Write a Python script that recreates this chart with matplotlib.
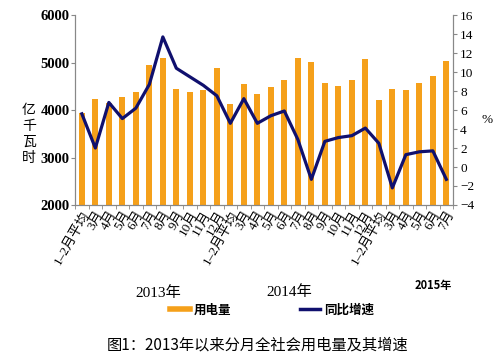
import matplotlib
matplotlib.use("Agg")
import matplotlib.pyplot as plt
import numpy as np
from matplotlib.lines import Line2D

SERIF = ['Liberation Serif', 'Noto Sans CJK SC']
CJK = ['Noto Sans CJK SC', 'DejaVu Sans']

BAR_COLOR = '#F5A01A'
LINE_COLOR = '#10106E'

# Month labels for 2013 / 2014 / 2015 (through July)
months = ['1–2月平均', '3月', '4月', '5月', '6月', '7月', '8月', '9月', '10月', '11月', '12月',
          '1–2月平均', '3月', '4月', '5月', '6月', '7月', '8月', '9月', '10月', '11月', '12月',
          '1–2月平均', '3月', '4月', '5月', '6月', '7月']

# Electricity consumption (100 million kWh)
usage = [3930, 4230, 4150, 4270, 4380, 4945, 5100, 4445, 4375, 4420, 4875,
         4120, 4545, 4340, 4480, 4630, 5090, 5020, 4565, 4500, 4635, 5080,
         4220, 4445, 4415, 4565, 4710, 5040]

# Year-on-year growth (%)
growth = [5.6, 2.0, 6.8, 5.1, 6.2, 8.7, 13.7, 10.4, 9.5, 8.6, 7.5,
          4.6, 7.2, 4.6, 5.4, 5.9, 2.9, -1.3, 2.7, 3.1, 3.3, 4.1,
          2.5, -2.2, 1.3, 1.6, 1.7, -1.3]

years = ['2013年', '2014年', '2015年']

fig = plt.figure(figsize=(5.04, 3.59), dpi=100)
ax = fig.add_axes([0.149, 0.429, 0.750, 0.529])
x = np.arange(len(months))

ax.bar(x, usage, width=0.45, color=BAR_COLOR, zorder=2)
ax.set_ylim(2000, 6000)
ax.set_xlim(-0.5, len(months) - 0.5)
ax.set_yticks([2000, 3000, 4000, 5000, 6000])
for lbl in ax.get_yticklabels():
    lbl.set_family(SERIF)
    lbl.set_fontweight('bold')
    lbl.set_fontsize(10.5)

ax2 = ax.twinx()
ax2.plot(x, growth, color=LINE_COLOR, linewidth=2.3, zorder=3)
ax2.set_ylim(-4, 16)
ax2.set_yticks(range(-4, 17, 2))
for lbl in ax2.get_yticklabels():
    lbl.set_family(SERIF)
    lbl.set_fontsize(9.5)

# x ticks: labels at bar centers, small marks at category boundaries
ax.set_xticks(x)
ax.set_xticklabels(months, rotation=60, ha='right', rotation_mode='anchor',
                   family=SERIF, fontsize=9.5)
ax.tick_params(axis='x', length=0, pad=3)
ax.set_xticks(np.arange(-0.5, len(months), 1), minor=True)
ax.tick_params(axis='x', which='minor', length=3, direction='out', color='#888888')
ax.tick_params(axis='y', length=3, color='#888888', pad=1)
ax2.tick_params(axis='y', length=3, color='#888888', pad=2)

for a in (ax, ax2):
    a.spines['top'].set_visible(False)
    for s in ('left', 'right', 'bottom'):
        a.spines[s].set_color('#888888')
        a.spines[s].set_linewidth(0.8)

# axis units
fig.text(29 / 504, 1 - 134 / 359, '亿\n千\n瓦\n时', family=CJK, fontsize=10,
         ha='center', va='center', linespacing=1.2)
fig.text(487 / 504, 1 - 120 / 359, '%', family=SERIF, fontsize=9.5, ha='center', va='center')

# year labels
fig.text(158 / 504, 1 - 293 / 359, years[0], family=SERIF, fontsize=11, ha='center', va='center')
fig.text(289 / 504, 1 - 292 / 359, years[1], family=SERIF, fontsize=11, ha='center', va='center')
fig.text(433 / 504, 1 - 285 / 359, years[2], family=CJK, fontsize=8, fontweight='bold',
         ha='center', va='center')

# legend
handles = [Line2D([], [], color=BAR_COLOR, linewidth=4),
           Line2D([], [], color=LINE_COLOR, linewidth=2.5)]
fig.legend(handles, ['用电量', '同比增速'], loc='center', bbox_to_anchor=(272 / 504, 1 - 310 / 359),
           ncol=2, frameon=False, handlelength=1.6, handletextpad=0.3, columnspacing=5.5,
           prop={'family': CJK, 'weight': 'bold', 'size': 9})

fig.text(258 / 504, 1 - 345 / 359, '图1：2013年以来分月全社会用电量及其增速',
         family=CJK, fontsize=11, ha='center', va='center')

fig.savefig('out.png', dpi=100)
